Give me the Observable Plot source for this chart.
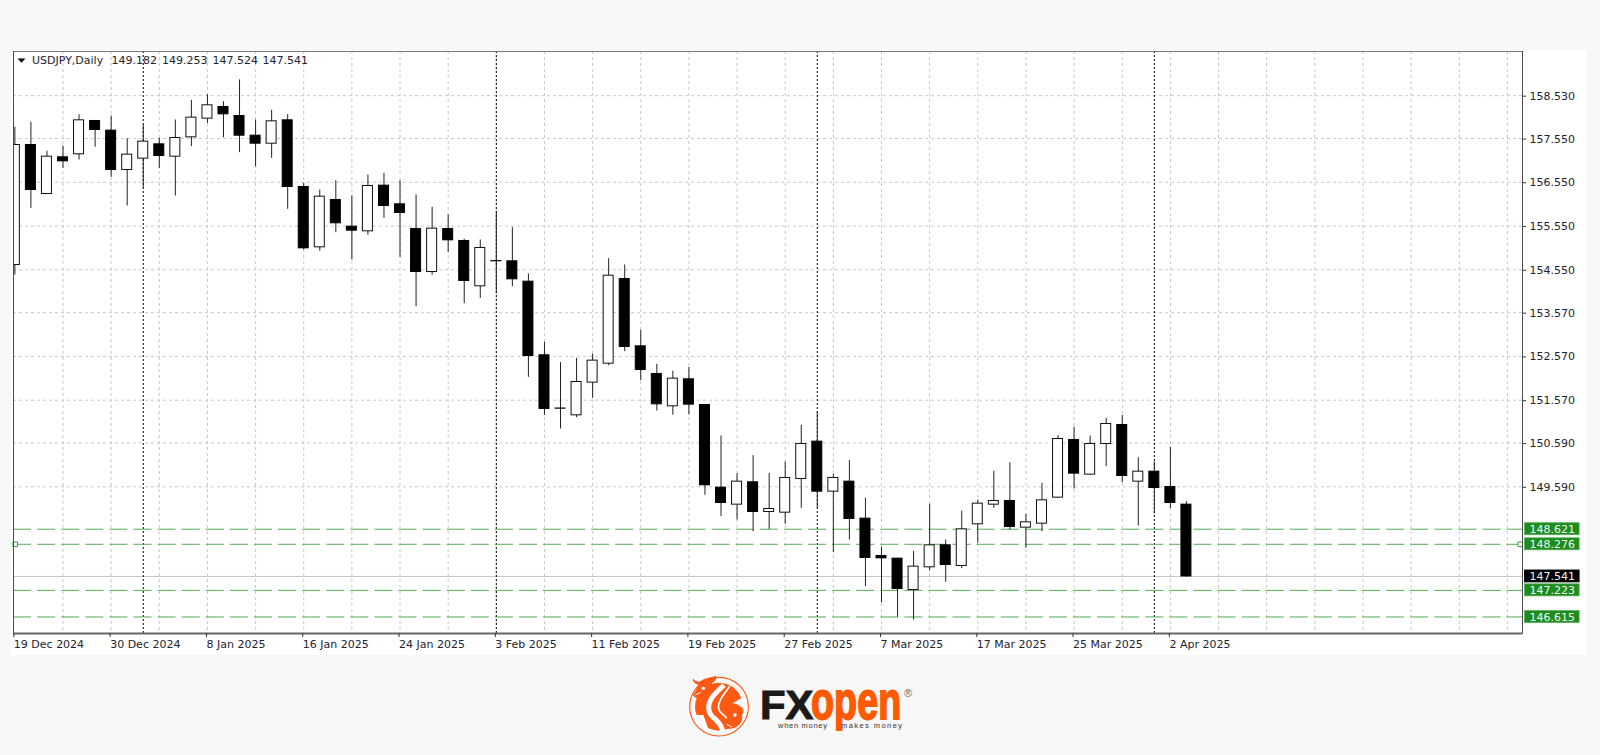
<!DOCTYPE html>
<html>
<head>
<meta charset="utf-8">
<script src="https://cdn.jsdelivr.net/npm/d3@7"></script>
<script src="https://cdn.jsdelivr.net/npm/@observablehq/plot@0.6"></script>
<style>
  html, body { margin: 0; padding: 0; background: #f8f8f8; }
  body { position: relative; width: 1600px; height: 755px; overflow: hidden; }
  #panel { position: absolute; left: 11px; top: 50px; width: 1576px; height: 605px; background: #fff; }
  #chart { position: absolute; left: 0; top: 0; }
  #chart svg { background: transparent; display: block; overflow: visible; }
  .logo { position: absolute; }
</style>
</head>
<body>
<div id="panel"></div>
<div id="chart"></div>
<svg class="logo" style="left:680px;top:665px" width="80" height="75" viewBox="0 0 240 225">
  <circle cx="117" cy="125" r="88" fill="none" stroke="#ff5a14" stroke-width="3.5"/>
  <circle cx="117" cy="125" r="72" fill="#ff5a14"/>
  <path d="M132 60 C105 85 78 110 88 140 C95 162 122 165 128 198" fill="none" stroke="#fff" stroke-width="15"/>
  <path d="M150 62 C135 85 112 108 116 130 C118 145 134 150 140 160" fill="none" stroke="#fff" stroke-width="5"/>
  <path d="M190 95 C205 115 205 135 198 150 L150 120 Z" fill="#fff"/>
  <path d="M42 150 C45 175 60 195 90 205 L70 150 Z" fill="#fff"/>
  <path d="M38 40 C50 55 60 50 68 44 C85 35 95 38 108 32 C112 40 104 50 96 54 C100 70 88 92 70 98 C58 104 42 98 38 90 C45 82 50 70 56 60 C48 58 38 52 38 40 Z" fill="#ff5a14"/>
  <circle cx="70" cy="70" r="5" fill="#fff"/><path d="M46 90 L62 82" stroke="#fff" stroke-width="3"/>
  <path d="M136 122 C148 112 168 112 180 124 C192 130 194 142 186 150 C190 170 176 186 158 190 C148 194 136 190 130 184 C140 176 146 160 144 146 C136 140 132 130 136 122 Z" fill="#ff5a14"/>
  <circle cx="165" cy="150" r="5" fill="#fff"/><path d="M140 178 L156 186" stroke="#fff" stroke-width="3"/>
</svg>
<svg class="logo" style="left:755px;top:660px" width="170" height="90" viewBox="755 660 170 90" font-family="Liberation Sans">
  <text transform="translate(760,719) scale(1.02,1)" font-size="41" font-weight="700" fill="#1a1a1a" stroke="#1a1a1a" stroke-width="1">FX</text>
  <text transform="translate(811,718.5) scale(0.7,1)" font-size="54" font-weight="700" fill="#ff5a00" stroke="#ff5a00" stroke-width="1.8">open</text>
  <text x="778" y="728" font-size="7.5" fill="#333" textLength="49">when money</text>
  <text x="841" y="728" font-size="7.5" fill="#333" textLength="61">makes money</text>
  <text x="904" y="697" font-size="11" fill="#666">®</text>
</svg>
<script>
// USDJPY daily candles
const opens = [154.660,157.403,156.283,157.121,157.190,157.952,157.731,156.832,157.091,157.418,
  157.136,157.578,158.005,158.272,158.066,157.616,157.433,157.967,156.443,155.064,
  156.146,155.536,155.430,156.473,156.047,155.483,154.500,155.483,155.209,154.173,
  154.748,154.744,154.279,152.596,151.380,151.224,151.971,152.405,154.340,152.801,
  152.169,151.430,152.047,151.460,149.571,149.182,149.693,149.014,148.999,149.769,
  150.622,149.479,149.708,148.862,148.009,147.948,147.232,147.750,148.253,147.780,
  148.733,149.182,149.266,148.656,148.748,149.342,150.660,149.868,150.569,151.003,
  149.708,149.936,149.586,149.182];
const highs = [157.807,157.921,157.258,157.380,158.096,157.952,158.066,157.548,157.860,157.555,
  157.974,158.424,158.553,158.393,158.889,157.974,158.195,158.096,156.527,156.374,
  156.588,156.237,156.717,156.755,156.588,156.260,155.978,155.803,155.247,155.232,
  155.879,155.514,154.455,152.893,152.428,152.527,152.618,154.805,154.660,153.167,
  152.390,152.230,152.321,151.460,150.752,149.891,150.302,149.898,150.157,150.995,
  151.308,149.875,150.188,149.327,148.214,147.948,148.115,149.190,148.374,149.030,
  149.289,149.944,150.142,148.961,149.670,150.759,150.950,150.752,151.155,151.224,
  150.256,150.157,150.493,149.253];
const lows = [154.432,155.955,156.283,156.870,157.060,157.350,156.664,156.009,156.413,156.862,
  156.237,157.365,157.898,157.571,157.228,156.908,157.098,155.933,155.003,154.973,
  155.399,154.774,155.338,155.727,154.835,153.708,154.424,154.942,153.776,153.898,
  154.005,154.165,152.093,151.224,150.912,151.171,151.613,152.359,152.679,152.016,
  151.323,151.224,151.232,149.395,148.908,148.832,148.565,148.618,148.733,149.098,
  149.098,148.085,148.374,147.308,146.942,146.607,146.546,147.666,147.407,147.719,
  148.298,149.098,148.603,148.184,148.565,149.327,149.540,149.853,150.051,149.685,
  148.694,148.969,149.091,147.524];
const closes = [157.403,156.374,157.136,157.030,157.967,157.746,156.832,157.182,157.479,157.152,
  157.563,158.028,158.310,158.104,157.616,157.433,157.944,156.443,155.041,156.222,
  155.613,155.445,156.466,156.009,155.849,154.500,155.491,155.224,154.295,155.049,
  154.744,154.333,152.580,151.369,151.376,151.986,152.474,154.416,152.786,152.260,
  151.476,152.062,151.468,149.624,149.220,149.708,149.014,149.083,149.792,150.569,
  149.479,149.792,148.854,147.963,147.955,147.254,147.765,148.253,147.803,148.618,
  149.205,149.266,148.672,148.778,149.281,150.683,149.891,150.569,151.026,149.837,
  149.936,149.563,149.220,147.541];

const dateLabels = ["19 Dec 2024","30 Dec 2024","8 Jan 2025","16 Jan 2025","24 Jan 2025","3 Feb 2025","11 Feb 2025",
  "19 Feb 2025","27 Feb 2025","7 Mar 2025","17 Mar 2025","25 Mar 2025","2 Apr 2025"];
const dateBars = [0,6,12,18,24,30,36,42,48,54,60,66,72];
const separatorBars = [8,30,50,71];
const gridBars = d3.range(0, 94, 3);
const priceTicks = [158.530,157.550,156.550,155.550,154.550,153.570,152.570,151.570,150.590,149.590];
const greenLevels = [148.621,148.276,147.223,146.615];
const lastPrice = 147.541;
const headerName = "USDJPY,Daily";
const headerValues = ["149.182","149.253","147.524","147.541"];

const candles = opens.map((o, i) => ({i, o, h: highs[i], l: lows[i], c: closes[i]}));
const up = candles.filter(d => d.c > d.o);
const down = candles.filter(d => d.c <= d.o);
const halfBody = 0.3115;
const frameIdx = [-0.0841, 93.94];
const tagIdx = [94.09, 97.5];
const tagHalf = 0.137;
const tags = [...greenLevels.map(v => ({v, last: false})), {v: lastPrice, last: true}];
const font = "DejaVu Sans";
const flatTriangle = {draw(c) { c.moveTo(-4, -2); c.lineTo(4, -2); c.lineTo(0, 2.2); c.closePath(); }};
const headerText = (value, dx) => Plot.text([value], {frameAnchor: "top-left", dx, dy: 8.5, text: d => d, textAnchor: "start", lineAnchor: "middle", fill: "#23232e", fontSize: 11});

const chart = Plot.plot({
  width: 1600, height: 660,
  marginLeft: 13, marginRight: 78, marginTop: 51, marginBottom: 27,
  style: {fontFamily: font, fontSize: "11px", background: "transparent", color: "#23232e"},
  x: {type: "linear", domain: frameIdx, axis: null},
  y: {type: "linear", domain: [146.237, 159.540], axis: null},
  marks: [
    Plot.ruleY(priceTicks, {stroke: "#c8c8c8", strokeDasharray: "3,3"}),
    Plot.ruleX(gridBars.slice(1), {stroke: "#c8c8c8", strokeDasharray: "3,3"}),
    Plot.ruleY([lastPrice], {stroke: "#c4c4c4"}),
    Plot.ruleX(separatorBars, {stroke: "#000", strokeDasharray: "2,2"}),
    Plot.ruleY(greenLevels, {stroke: "#55ad55", strokeDasharray: "18.09,6"}),
    Plot.dot([greenLevels[1]], {x: () => 0.02, y: d => d, symbol: "square", r: 2.6, stroke: "#3f9e3f", fill: "#fff", strokeWidth: 1}),
    Plot.dot([greenLevels[1]], {x: () => 93.8, y: d => d, symbol: "square", r: 2.6, stroke: "#3f9e3f", fill: "#fff", strokeWidth: 1}),
    Plot.ruleX(candles, {x: "i", y1: "l", y2: "h", stroke: "#222", strokeWidth: 1, clip: "frame"}),
    Plot.rect(up, {x1: d => d.i - halfBody, x2: d => d.i + halfBody, y1: "o", y2: "c", fill: "#fff", stroke: "#111", strokeWidth: 1, clip: "frame"}),
    Plot.rect(down, {x1: d => d.i - halfBody, x2: d => d.i + halfBody, y1: "o", y2: "c", fill: "#000", stroke: "#000", strokeWidth: 1, clip: "frame"}),
    Plot.frame({stroke: "#777"}),
    Plot.ruleX([frameIdx[0], frameIdx[1]], {stroke: "#4d4d4d"}),
    Plot.ruleY([146.237], {stroke: "#666", strokeWidth: 2}),
    Plot.axisY(priceTicks, {anchor: "right", tickSize: 3, tickPadding: 4, tickFormat: d3.format(".3f"), label: null, fontSize: 11, fill: "#23232e", stroke: "#333", dy: 0.5}),
    Plot.axisX(dateBars, {anchor: "bottom", tickSize: 4, tickPadding: 3, tickFormat: (d, i) => dateLabels[i], textAnchor: "start", label: null, fontSize: 11, fill: "#23232e", stroke: "#333", dx: -1}),
    Plot.rect(tags, {x1: () => tagIdx[0], x2: () => tagIdx[1], y1: d => d.v - tagHalf, y2: d => d.v + tagHalf, fill: d => d.last ? "black" : "#1c8c1c", stroke: d => d.last ? "black" : "#5cae5c", strokeWidth: 0.8, clip: false}),
    Plot.text(tags, {y: "v", frameAnchor: "right", dx: 7, dy: 0.5, text: d => d.v.toFixed(3), textAnchor: "start", fill: "#f2f8f2", fontSize: 11}),
    Plot.dot([0], {frameAnchor: "top-left", dx: 8, dy: 9, symbol: flatTriangle, r: 3, fill: "#000"}),
    headerText(headerName, 18.5),
    headerText(headerValues[0], 98),
    headerText(headerValues[1], 148.5),
    headerText(headerValues[2], 199),
    headerText(headerValues[3], 249)
  ]
});
document.getElementById("chart").appendChild(chart);
</script>
</body>
</html>
